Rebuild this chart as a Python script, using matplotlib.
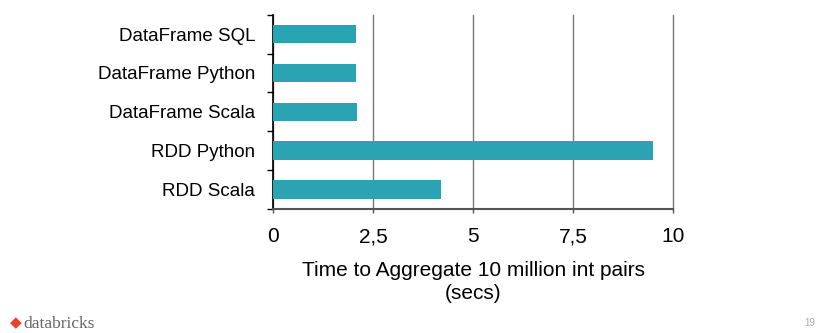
import matplotlib.pyplot as plt

# benchmark data
labels = ["DataFrame SQL", "DataFrame Python", "DataFrame Scala", "RDD Python", "RDD Scala"]
secs = [2.08, 2.07, 2.09, 9.5, 4.19]
xticks = [0, 2.5, 5, 7.5, 10]
xtick_labels = ["0", "2,5", "5", "7,5", "10"]

plt.rcParams['font.family'] = ['Liberation Sans', 'DejaVu Sans']

fig = plt.figure(figsize=(8.18, 3.33), dpi=100)
ax = fig.add_axes([0.334, 0.372, 0.489, 0.584])

# top of list is first label
ypos = list(range(len(labels)))[::-1]
ax.barh(ypos, secs, height=0.48, color="#2aa3b3", zorder=3)

ax.set_xlim(0, 10)
ax.set_ylim(-0.5, len(labels) - 0.5)
ax.set_xticks(xticks)
ax.set_xticklabels(xtick_labels, fontsize=15)
ax.set_yticks(ypos)
ax.set_yticklabels(labels, fontsize=13.5)
ax.tick_params(axis='y', length=0, pad=13)
ax.set_yticks([y - 0.5 for y in range(len(labels) + 1)], minor=True)
ax.tick_params(axis='y', which='minor', length=4, width=1, color='black')
ax.tick_params(axis='x', length=3, width=1, color='#555555', pad=10)

ax.grid(axis='x', color='#777777', linewidth=1, zorder=0)
for gl in ax.get_xgridlines():
    gl.set_clip_on(False)
for s in ['top', 'right']:
    ax.spines[s].set_visible(False)
ax.spines['left'].set_color('black')
ax.spines['left'].set_linewidth(1.2)
ax.spines['bottom'].set_color('#555555')
ax.spines['bottom'].set_linewidth(1.5)

ax.set_xlabel("Time to Aggregate 10 million int pairs\n(secs)", fontsize=15, labelpad=11, linespacing=1.25)

# footer
fig.text(0.012, 0.018, "\u25c6", color="#e8412c", fontsize=11, family='DejaVu Sans')
fig.text(0.028, 0.014, "databricks", color="#666666", fontsize=12.5, family='Liberation Serif')
fig.text(0.997, 0.02, "19", color="#aaaaaa", fontsize=7, ha='right')

fig.savefig("out.png", dpi=100)
